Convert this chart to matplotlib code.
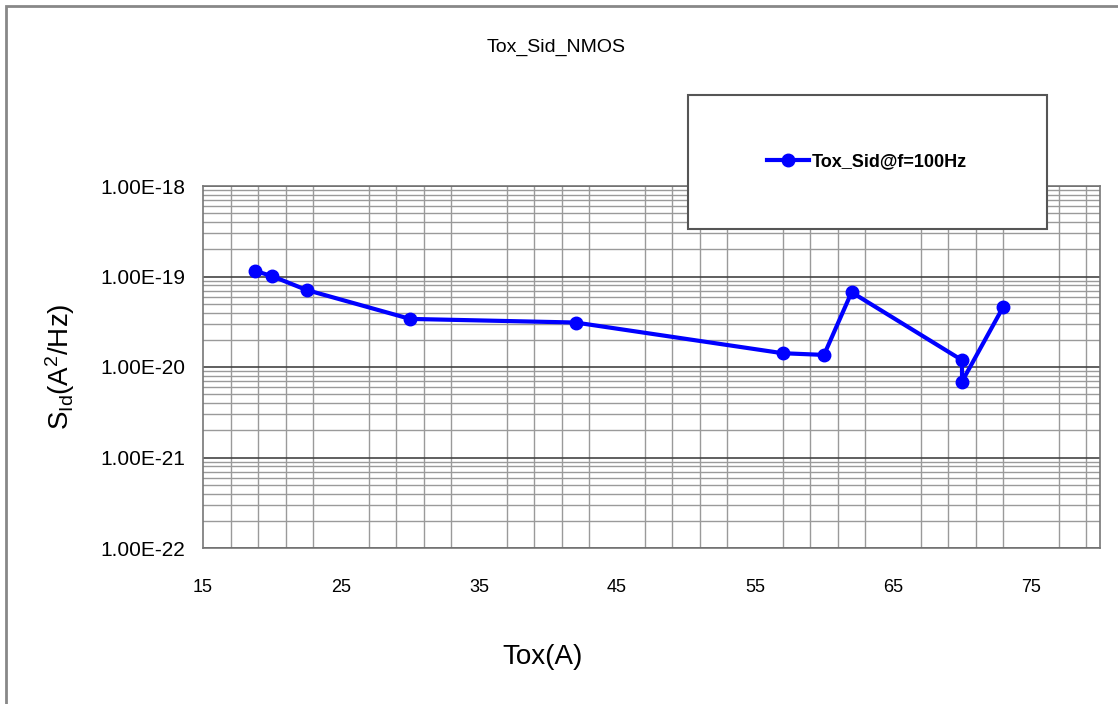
import numpy as np
import matplotlib.pyplot as plt
from matplotlib.patches import Rectangle
from matplotlib.ticker import MultipleLocator, LogLocator, FixedFormatter, FixedLocator

plt.rcParams['font.family'] = ['Liberation Sans', 'DejaVu Sans']
plt.rcParams['mathtext.fontset'] = 'custom'
plt.rcParams['mathtext.rm'] = 'Liberation Sans'
plt.rcParams['mathtext.it'] = 'Liberation Sans'

# oxide thickness (A) vs drain current noise PSD at 100 Hz
tox = [18.8, 20.0, 22.5, 30.0, 42.0, 57.0, 60.0, 62.0, 70.0, 70.0, 73.0]
sid = [1.15e-19, 1.01e-19, 7.1e-20, 3.4e-20, 3.1e-20, 1.42e-20, 1.36e-20,
       6.7e-20, 1.19e-20, 6.9e-21, 4.65e-20]

ytick_vals = [1e-22, 1e-21, 1e-20, 1e-19, 1e-18]
ytick_text = ["1.00E-22", "1.00E-21", "1.00E-20", "1.00E-19", "1.00E-18"]
xtick_vals = [15, 25, 35, 45, 55, 65, 75]

W, H = 1118, 704
fig = plt.figure(figsize=(W / 100, H / 100), dpi=100)
ax = fig.add_axes([203 / W, 1 - 548 / H, (1100 - 203) / W, (548 - 186) / H])

ax.plot(tox, sid, color='#0000ff', lw=3, marker='o', ms=9,
        label='Tox_Sid@f=100Hz', zorder=5)

ax.set_yscale('log')
ax.set_ylim(1e-22, 1e-18)
ax.set_xlim(15, 80)

ax.yaxis.set_major_locator(FixedLocator(ytick_vals))
ax.yaxis.set_major_formatter(FixedFormatter(ytick_text))
ax.yaxis.set_minor_locator(LogLocator(base=10, subs=np.arange(2, 10), numticks=20))
ax.xaxis.set_major_locator(FixedLocator(xtick_vals))
ax.xaxis.set_minor_locator(MultipleLocator(2, offset=1))

ax.grid(True, which='major', axis='y', color='#444444', lw=1.2)
ax.grid(True, which='minor', axis='y', color='#9a9a9a', lw=1.0)
ax.grid(True, which='minor', axis='x', color='#9a9a9a', lw=1.0)
ax.set_axisbelow(True)

ax.tick_params(which='both', length=0)
ax.tick_params(axis='y', labelsize=15, pad=13)
ax.tick_params(axis='x', labelsize=13, pad=22)

for side in ['left', 'bottom', 'right', 'top']:
    ax.spines[side].set_color('#777777')
    ax.spines[side].set_linewidth(1.2)

fig.text(543 / W, 1 - 657 / H, 'Tox(A)', ha='center', va='center', fontsize=20)
fig.text(60 / W, 1 - 367 / H, r'S$_{\mathrm{Id}}$(A$^{\mathrm{2}}$/Hz)',
         rotation=90, ha='center', va='center', fontsize=20)
fig.text(556 / W, 1 - 47 / H, 'Tox_Sid_NMOS', ha='center', va='center', fontsize=14)

# legend box
fig.add_artist(Rectangle((688 / W, 1 - 229 / H), (1047 - 688) / W, (229 - 95) / H,
                         transform=fig.transFigure, facecolor='white',
                         edgecolor='#555555', lw=1.5, zorder=3))
fig.legend(loc='center left', bbox_to_anchor=(751 / W, 1 - 162 / H), frameon=False,
           handlelength=2.3, handletextpad=0.15,
           prop={'size': 13, 'weight': 'bold'})

# outer frame
fig.add_artist(Rectangle((6 / W, -0.1), 1.2, 1 - 6 / H + 0.1,
                         transform=fig.transFigure, fill=False,
                         edgecolor='#888888', lw=2))

fig.savefig('out.png', dpi=100)
